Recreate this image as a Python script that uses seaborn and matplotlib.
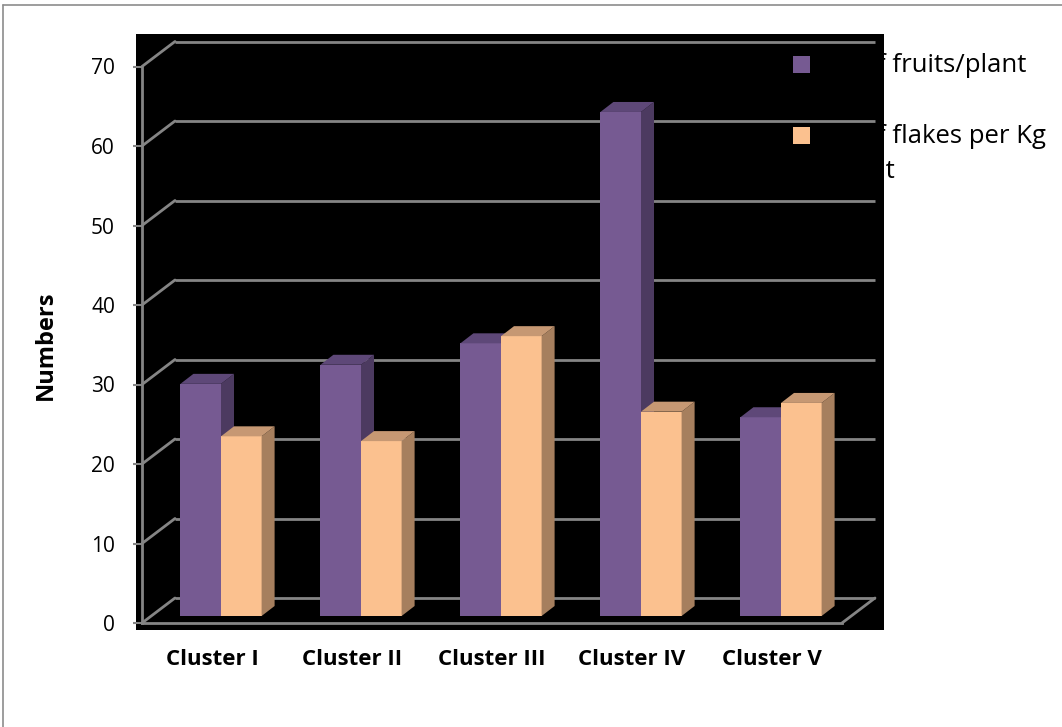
import matplotlib
matplotlib.use("Agg")
import matplotlib.pyplot as plt
import pandas as pd
import seaborn as sns
from matplotlib.patches import Polygon, Rectangle
from matplotlib.lines import Line2D
from matplotlib.transforms import ScaledTranslation

# ---- data -------------------------------------------------------------
clusters = ["Cluster I", "Cluster II", "Cluster III", "Cluster IV", "Cluster V"]
fruits_per_plant = [29.2, 31.6, 34.3, 63.4, 25.0]
flakes_per_kg = [22.6, 22.0, 35.2, 25.7, 26.8]
series_names = ["No. of fruits/plant", "No. of flakes per Kg of fruit"]
legend_lines = [["No. of fruits/plant"], ["No. of flakes per Kg", "of fruit"]]
y_ticks = [0, 10, 20, 30, 40, 50, 60, 70]

df = pd.DataFrame({
    "cluster": clusters * 2,
    "value": fruits_per_plant + flakes_per_kg,
    "series": [series_names[0]] * len(clusters) + [series_names[1]] * len(clusters),
})

# ---- style ------------------------------------------------------------
sns.set_theme(style="white")
plt.rcParams["font.family"] = ["Open Sans", "DejaVu Sans"]

front_cols = ["#765A92", "#FBC18F"]
side_cols = ["#4C3A60", "#A67F5E"]
top_cols = ["#5E4878", "#C69873"]
grid_col = "#858585"

W, H = 1062, 727
fig = plt.figure(figsize=(W / 100, H / 100), dpi=100)
fig.patch.set_facecolor("white")

# plot-area geometry (front plane, pixels)
ax_l, ax_r, ax_b, ax_t = 142, 842, 623, 66.5
ax = fig.add_axes([ax_l / W, 1 - ax_b / H, (ax_r - ax_l) / W, (ax_b - ax_t) / H])
ax.set_facecolor("none")

# black chart background and the outer frame
fig.add_artist(Rectangle((136 / W, 1 - 630 / H), (884 - 136) / W, (630 - 34) / H,
                         transform=fig.transFigure, facecolor="black",
                         edgecolor="none", zorder=-1))
fig.add_artist(Line2D([3 / W, 1], [1 - 5 / H, 1 - 5 / H], transform=fig.transFigure,
                      color="#8C8C8C", lw=1.2))
fig.add_artist(Line2D([3 / W, 3 / W], [0, 1 - 5 / H], transform=fig.transFigure,
                      color="#8C8C8C", lw=1.2))

sns.barplot(data=df, x="cluster", y="value", hue="series", order=clusters,
            hue_order=series_names, palette=front_cols, saturation=1,
            width=0.58, errorbar=None, legend=False, ax=ax)

ax.set_xlim(-0.5, 4.5)
ax.set_ylim(0, 70)

px_per_x = (ax_r - ax_l) / 5.0
px_per_y = (ax_b - ax_t) / 70.0

# perspective: back wall offset and bar placement/depth
def shift(dx_px, dy_px):
    return ax.transData + ScaledTranslation(dx_px / 100, dy_px / 100, fig.dpi_scale_trans)

back_tf = shift(33, 25)
bar_tf = shift(9, 7)
ddx, ddy = 13 / px_per_x, 10 / px_per_y

# gridlines on the back wall and the side wall
for v in y_ticks:
    ax.plot([-0.5, 4.5], [v, v], transform=back_tf, color=grid_col, lw=2.0,
            zorder=1, clip_on=False, solid_capstyle="butt")
    ax.plot([-0.5, -0.5 + 33 / px_per_x], [v, v + 25 / px_per_y], color=grid_col,
            lw=2.0, zorder=1, clip_on=False)
ax.plot([4.5, 4.5 + 33 / px_per_x], [0, 25 / px_per_y], color=grid_col, lw=2.0,
        zorder=1, clip_on=False)

# 3-D faces for each bar
n = len(clusters)
for i, patch in enumerate(list(ax.patches)):
    h = i // n
    x0, w, top = patch.get_x(), patch.get_width(), patch.get_height()
    patch.set_transform(bar_tf)
    patch.set_zorder(3 + h)
    patch.set_edgecolor("none")
    patch.set_clip_on(False)
    side = Polygon([(x0 + w, 0), (x0 + w, top), (x0 + w + ddx, top + ddy),
                    (x0 + w + ddx, ddy)], closed=True, transform=bar_tf,
                   facecolor=side_cols[h], edgecolor="none", zorder=3.1 + h,
                   clip_on=False)
    lid = Polygon([(x0, top), (x0 + w, top), (x0 + w + ddx, top + ddy),
                   (x0 + ddx, top + ddy)], closed=True, transform=bar_tf,
                  facecolor=top_cols[h], edgecolor="none", zorder=3.2 + h,
                  clip_on=False)
    ax.add_patch(side)
    ax.add_patch(lid)

# axes
for s in ["top", "right"]:
    ax.spines[s].set_visible(False)
for s in ["left", "bottom"]:
    ax.spines[s].set_color(grid_col)
    ax.spines[s].set_linewidth(2.0)
    ax.spines[s].set_zorder(1.5)

ax.set_yticks(y_ticks)
ax.tick_params(axis="y", length=6.5, width=1.5, color=grid_col, pad=13,
               labelsize=15, labelcolor="black", direction="out", left=True)
ax.tick_params(axis="x", length=0, pad=19, labelsize=16, labelcolor="black")
for lbl in ax.get_xticklabels():
    lbl.set_fontweight("bold")
ax.set_xlabel("")
ax.set_ylabel("Numbers", fontsize=17, fontweight="bold", color="black")
ax.yaxis.set_label_coords((58 - ax_l) / (ax_r - ax_l), 0.5)

# legend: black text, so the part over the dark background disappears
legend_fs = 18.5
renderer = fig.canvas.get_renderer()
probe = fig.text(0, 0, "No. of ", fontsize=legend_fs)
prefix_w = probe.get_window_extent(renderer).width
probe.remove()
text_x = 892 - prefix_w

sq = 17
box_y = [56, 127]
for k, lines in enumerate(legend_lines):
    fig.add_artist(Rectangle((793 / W, 1 - (box_y[k] + sq) / H), sq / W, sq / H,
                             transform=fig.transFigure, facecolor=front_cols[k],
                             edgecolor="none"))
    for j, line in enumerate(lines):
        yc = box_y[k] + sq / 2 + 1 + 35 * j
        fig.text(text_x / W, 1 - yc / H, line, ha="left", va="center",
                 fontsize=legend_fs, color="black")

fig.savefig("out.png", dpi=100)
